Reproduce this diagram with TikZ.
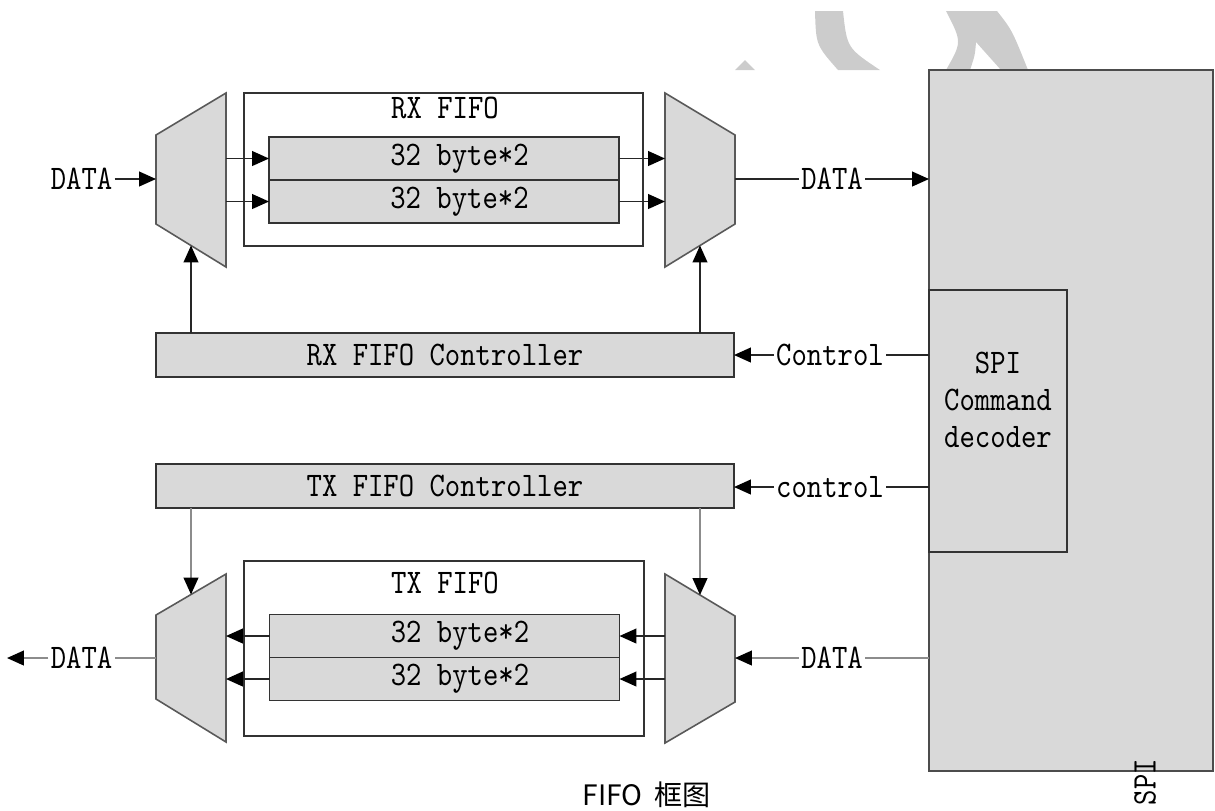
\documentclass[tikz,border=0pt]{standalone}
\usepackage{fontspec}
\newfontfamily\schfont{lmmono10-regular.otf}[FakeStretch=0.85]
\newfontfamily\cjkfont{Noto Sans CJK SC}
\usetikzlibrary{arrows.meta,positioning}

\tikzset{
  txt/.style={font=\schfont\fontsize{9.8pt}{10.5pt}\selectfont},
  lbl/.style={txt, inner sep=.5pt},
  box/.style={draw=black!80, line width=.45pt, inner sep=0pt, outer sep=0pt},
  greybox/.style={box, fill=black!15, txt},
  cell/.style={greybox, minimum width=3.5cm, minimum height=.43cm, label={[lbl,xshift=.155cm]center:32 byte*2}},
  mux/.style={fill=black!15, draw=black!65, line width=.45pt},
  wire/.style={line width=.45pt, black!85},
  softwire/.style={line width=.45pt, black!45},
  arr/.style={-{Triangle[length=4.8pt,width=4.2pt,color=black]}},
  wmark/.style={fill=black!20}
}

\begin{document}
\begin{tikzpicture}[x=1cm,y=-1cm]
\useasboundingbox (0,0) rectangle (12.15,8.10);

\fill[wmark] (7.45,.60) -- (7.35,.70) -- (7.55,.70) -- cycle;
\fill[wmark] (8.15,.11) -- (8.43,.11) .. controls (8.47,.48) .. (8.80,.70) -- (8.38,.70) .. controls (8.16,.45) .. (8.15,.11) -- cycle;
\fill[wmark] (9.46,.11) -- (9.97,.11) .. controls (10.12,.30) .. (10.28,.70) -- (10.01,.70) -- (9.76,.42) .. controls (9.75,.55) .. (9.70,.70) -- (9.46,.70) .. controls (9.62,.42) .. (9.46,.11) -- cycle;

\node[greybox, draw=black!70, minimum width=2.84cm, minimum height=7.01cm] (spi) at (10.71,4.205) {};
\node[greybox, minimum width=1.38cm, minimum height=2.62cm] (decoder) at (9.98,4.21) {};
\node[lbl, align=center] (dectext) at (9.98,4.0) {SPI\\Command\\decoder};
\node[lbl, rotate=90] (spiname) at (11.45,7.82) {SPI};

\node[box, minimum width=3.99cm, minimum height=1.53cm] (rxfifo) at (4.435,1.695) {};
\node[lbl] (rxtitle) at (4.45,1.08) {RX FIFO};
\node[cell] (rxcellA) at (4.44,1.585) {};
\node[cell, below=0pt of rxcellA] (rxcellB) {};

\node[box, minimum width=4.0cm, minimum height=1.75cm] (txfifo) at (4.44,6.485) {};
\node[lbl] (txtitle) at (4.45,5.83) {TX FIFO};
\node[cell] (txcellA) at (4.445,6.36) {};
\node[cell, below=0pt of txcellA] (txcellB) {};

\node[greybox, minimum width=5.78cm, minimum height=.44cm] (rxctrl) at (4.45,3.55) {RX FIFO Controller};
\node[greybox, minimum width=5.78cm, minimum height=.44cm] (txctrl) at (4.45,4.86) {TX FIFO Controller};

\filldraw[mux] (1.56,1.35) -- (2.26,.93) -- (2.26,2.67) -- (1.56,2.24) -- cycle;
\filldraw[mux] (6.65,.93) -- (7.35,1.35) -- (7.35,2.24) -- (6.65,2.67) -- cycle;
\filldraw[mux] (1.56,6.15) -- (2.26,5.74) -- (2.26,7.42) -- (1.56,6.99) -- cycle;
\filldraw[mux] (6.65,5.74) -- (7.35,6.16) -- (7.35,7.02) -- (6.65,7.43) -- cycle;

\coordinate (rxinD) at (1.56,1.79);
\coordinate (rxinR) at (2.26,1.79);
\coordinate (rxinC) at (1.91,2.455);
\coordinate (rxoutL) at (6.65,1.79);
\coordinate (rxoutD) at (7.35,1.79);
\coordinate (rxoutC) at (7.00,2.455);
\coordinate (txinD) at (1.56,6.58);
\coordinate (txinR) at (2.26,6.58);
\coordinate (txinC) at (1.91,5.945);
\coordinate (txoutL) at (6.65,6.58);
\coordinate (txoutD) at (7.35,6.58);
\coordinate (txoutC) at (7.00,5.95);
\coordinate (txend) at (.07,6.58);

\foreach \c in {A,B} {
  \draw[wire,arr] (rxinR |- rxcell\c.west) -- (rxcell\c.west);
  \draw[wire,arr] (rxcell\c.east) -- (rxoutL |- rxcell\c.east);
  \draw[wire,arr] (txcell\c.west) -- (txinR |- txcell\c.west);
  \draw[wire,arr] (txoutL |- txcell\c.east) -- (txcell\c.east);
}

\draw[wire,arr] (rxinC |- rxctrl.north) -- (rxinC);
\draw[wire,arr] (rxoutC |- rxctrl.north) -- (rxoutC);
\draw[softwire,arr] (txinC |- txctrl.south) -- (txinC);
\draw[softwire,arr] (txoutC |- txctrl.south) -- (txoutC);

\node[lbl] (rxdin) at (.815,1.79) {DATA};
\draw[wire,arr] (rxdin) -- (rxinD);
\node[lbl] (rxdout) at (8.32,1.79) {DATA};
\draw[wire] (rxoutD) -- (rxdout);
\draw[wire,arr] (rxdout) -- (rxdout -| spi.west);

\node[lbl] (rxcmd) at (8.30,3.55) {Control};
\draw[wire] (rxcmd -| decoder.west) -- (rxcmd);
\draw[wire,arr] (rxcmd) -- (rxctrl);
\node[lbl] (txcmd) at (8.30,4.87) {control};
\draw[wire] (txcmd -| decoder.west) -- (txcmd);
\draw[wire,arr] (txcmd) -- (txcmd -| txctrl.east);

\node[lbl] (txdin) at (8.32,6.58) {DATA};
\draw[softwire] (txdin -| spi.west) -- (txdin);
\draw[softwire,arr] (txdin) -- (txoutD);
\node[lbl] (txdout) at (.815,6.58) {DATA};
\draw[softwire] (txinD) -- (txdout);
\draw[softwire,arr] (txdout) -- (txend);

\node[font=\cjkfont\fontsize{8pt}{9pt}\selectfont, inner sep=0pt] (caption) at (6.47,7.95) {FIFO\hspace{.12cm}框图};
\end{tikzpicture}
\end{document}
